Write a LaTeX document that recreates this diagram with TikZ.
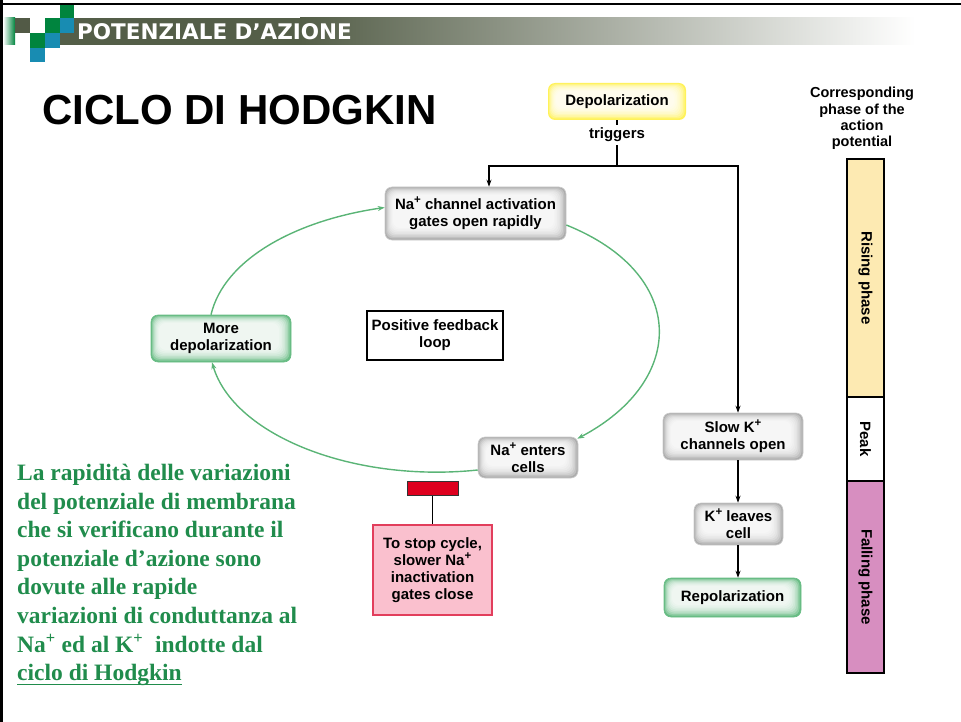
\documentclass[tikz,border=0pt]{standalone}
\usepackage{fontspec}
\setmainfont{Liberation Sans}
\newfontfamily\greenserif{Liberation Serif}
\newfontfamily\hdrfont{DejaVu Sans}
\usetikzlibrary{arrows.meta,calc}
\definecolor{hdrdark}{RGB}{84,94,72}
\definecolor{sqgreen}{RGB}{0,132,62}
\definecolor{sqblue}{RGB}{24,140,178}
\definecolor{sqdark}{RGB}{82,90,70}
\definecolor{loopgreen}{RGB}{90,180,118}
\definecolor{txtgreen}{RGB}{32,140,76}
\definecolor{boxgray}{RGB}{172,172,172}
\definecolor{boxgreen}{RGB}{104,188,132}
\definecolor{boxyellow}{RGB}{255,242,90}
\definecolor{pinkfill}{RGB}{250,192,206}
\definecolor{pinkborder}{RGB}{226,62,92}
\definecolor{redbar}{RGB}{222,0,30}
\definecolor{rising}{RGB}{253,234,178}
\definecolor{falling}{RGB}{215,142,192}
\newcommand\plusup{\raisebox{0.75ex}{\fontsize{11.5}{11.5}\selectfont\bfseries +}}
\newcommand\thickul[1]{\setbox0\hbox{#1}\rlap{\rule[-4.5pt]{\wd0}{1.6pt}}#1}
\begin{document}
\begin{tikzpicture}[x=1pt,y=1pt,
  lbl/.style={font=\bfseries\fontsize{15}{17}\selectfont, align=center, inner sep=0pt},
  glow/.style={lbl, rounded corners=7pt, fill=#1,
    path picture={\foreach \i in {1,...,8}{\fill[white,opacity=0.25] ($(path picture bounding box.south west)+(1.0*\i,1.5*\i)$) rectangle ($(path picture bounding box.north east)-(1.5*\i,1.0*\i)$);}}},
  graybox/.style={glow=boxgray, draw=boxgray!60, line width=0.6pt},
  greenbox/.style={glow=boxgreen, draw=boxgreen, line width=0.6pt},
  conn/.style={line width=1.4pt, black},
  arr/.style={conn, -{Stealth[length=7pt,width=5pt]}},
  loopline/.style={line width=1.4pt, loopgreen, -{Stealth[length=7pt,width=5pt]}}
]
\useasboundingbox (0,0) rectangle (961,-722);
% frame lines
\draw[line width=2pt] (0,-4) -- (961,-4);
\draw[line width=3pt] (1.5,0) -- (1.5,-722);
% header banner
\shade[left color=white, right color=sqgreen] (3,-18) rectangle (15,-45);
\fill[hdrdark] (60,-18) rectangle (300,-45);
\shade[left color=hdrdark, middle color=hdrdark!40, right color=white] (300,-18) rectangle (915,-45);
\fill[sqdark] (15,-18) rectangle (30,-33);
\fill[sqgreen] (45,-18) rectangle (60,-33);
\fill[sqblue] (60,-18) rectangle (74,-33);
\fill[sqgreen] (60,-5) rectangle (74,-18);
\fill[sqgreen] (30,-33) rectangle (45,-48);
\fill[sqblue] (45,-33) rectangle (60,-48);
\fill[sqblue] (30,-48) rectangle (45,-62);
\node[anchor=west, text=white, inner sep=0pt, font=\hdrfont\bfseries\fontsize{21.5}{21.5}\selectfont] (hdr) at (77,-32) {POTENZIALE D’AZIONE};
% title
\node[anchor=west, inner sep=0pt, font=\bfseries\fontsize{42}{42}\selectfont] (title) at (42,-110) {CICLO DI HODGKIN};
% diagram nodes
\node[glow=boxyellow, minimum width=138pt, minimum height=37pt] (depol) at (617,-101.5) {Depolarization};
\node[lbl, inner sep=3pt] (trig) at (617,-135) {triggers};
\node[graybox, minimum width=181pt, minimum height=53pt] (na) at (475.5,-213.5) {Na\plusup{} channel activation\\gates open rapidly};
\node[greenbox, minimum width=140pt, minimum height=47pt] (more) at (221,-338.5) {More\\depolarization};
\node[lbl, draw, line width=1.3pt, fill=white, minimum width=136pt, minimum height=49pt] (pfl) at (435,-335.5) {Positive feedback\\loop};
\node[graybox, minimum width=100pt, minimum height=41pt] (enter) at (528,-457.5) {Na\plusup{} enters\\cells};
\node[draw=black!80, line width=1pt, fill=redbar, minimum width=51pt, minimum height=14pt, inner sep=0pt] (bar) at (432.5,-488) {};
\node[lbl, draw=pinkborder, line width=1.3pt, fill=pinkfill, minimum width=119pt, minimum height=90pt] (stop) at (432.5,-570) {To stop cycle,\\slower Na\plusup\\inactivation\\gates close};
\node[graybox, minimum width=140pt, minimum height=47pt] (slowk) at (733,-436.5) {Slow K\plusup\\channels open};
\node[graybox, minimum width=89pt, minimum height=42pt] (leaves) at (738.5,-524) {K\plusup{} leaves\\cell};
\node[greenbox, minimum width=137pt, minimum height=39pt] (repol) at (732.5,-597.5) {Repolarization};
% connectors
\coordinate (j) at (617,-166);
\coordinate (jl) at (489,-166);
\coordinate (jr) at (738,-166);
\draw[conn] (depol) -- (trig);
\draw[conn] (trig) -- (j);
\draw[arr] (j) -- (jl) -- (jl |- na.north);
\draw[arr] (j) -- (jr) -- (jr |- slowk.north);
\draw[arr] (slowk.south -| jr) -- (leaves.north -| jr);
\draw[arr] (leaves.south -| jr) -- (repol.north -| jr);
\draw[conn] (bar) -- (stop);
% positive feedback loop
\draw[loopline] ([xshift=-10pt]more.north) .. controls +(13,55) and +(-90,-13) .. ([yshift=6pt]na.west);
\draw[loopline] ([yshift=-11.5pt]na.east) .. controls +(122,-49) and +(110,58) .. ([xshift=-1pt,yshift=-2pt]enter.north east);
\draw[loopline] ([yshift=-12.5pt]enter.west) .. controls +(-123.5,-13) and +(21.7,-73.4) .. ([xshift=-9pt]more.south);
% right panel
\node[lbl, font=\bfseries\fontsize{14.5}{16.3}\selectfont] (corr) at (862,-118.5) {Corresponding\\phase of the\\action\\potential};
\node[draw, line width=1.2pt, fill=rising, minimum width=37pt, minimum height=238pt, inner sep=0pt] (rise) at (865.5,-278) {};
\node[draw, line width=1.2pt, fill=white, minimum width=37pt, minimum height=84pt, inner sep=0pt] (peak) at (865.5,-439) {};
\node[draw, line width=1.2pt, fill=falling, minimum width=37pt, minimum height=192pt, inner sep=0pt] (fall) at (865.5,-577) {};
\node[lbl, rotate=-90] (risetxt) at (rise.center) {Rising phase};
\node[lbl, rotate=-90] (peaktxt) at (peak.center) {Peak};
\node[lbl, rotate=-90] (falltxt) at (fall.center) {Falling phase};
% green text
\node[anchor=north west, inner sep=0pt, align=left, text=txtgreen, font=\greenserif\bfseries\fontsize{23.5}{28.6}\selectfont] (para) at (17,-464) {La rapidità delle variazioni\\del potenziale di membrana\\che si verificano durante il\\potenziale d’azione sono\\dovute alle rapide\\variazioni di conduttanza al\\Na\textsuperscript{+} ed al K\textsuperscript{+}\ \ indotte dal\\\thickul{ciclo di Hodgkin}};
\end{tikzpicture}
\end{document}
